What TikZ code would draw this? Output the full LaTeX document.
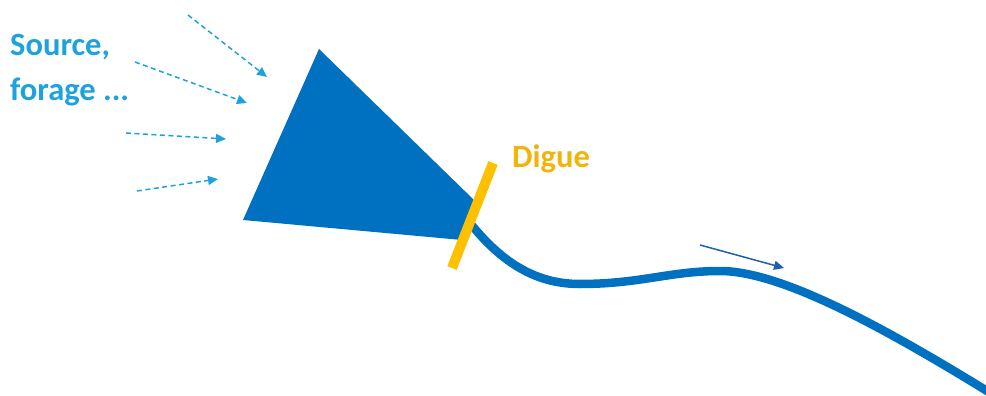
\documentclass[tikz,border=0pt]{standalone}
\usepackage{fontspec}
\setmainfont{Carlito}
\usetikzlibrary{arrows.meta}
\definecolor{riverblue}{RGB}{0,112,192}
\definecolor{srcblue}{RGB}{30,162,222}
\definecolor{damyellow}{RGB}{255,192,0}
\definecolor{damtext}{RGB}{240,180,10}
\definecolor{flowblue}{RGB}{30,95,170}
\tikzset{
  lbl/.style={anchor=base west, inner sep=0pt, font=\fontsize{32.5}{32.5}\selectfont\bfseries},
  inflow/.style={srcblue, line width=1.5pt, dash pattern=on 5pt off 3.5pt, -{Triangle[length=10pt,width=9pt]}},
  river/.style={riverblue, line width=8.5pt},
  dam/.style={damyellow, line width=10pt},
  flow/.style={flowblue, line width=1.5pt, -{Triangle[length=10pt,width=9pt]}}
}
\begin{document}
\begin{tikzpicture}[x=1pt,y=-1pt]
\useasboundingbox (0,0) rectangle (986,396);
% lake (truncated triangle)
\coordinate (apex) at (319,49);
\coordinate (bl) at (243,220);
\coordinate (tr) at (474,200);
\coordinate (br) at (462,240);
\fill[riverblue] (apex) -- (tr) -- (br) -- (bl) -- cycle;
% river
\coordinate (r0) at (466,218);
\coordinate (r1) at (580,284);
\coordinate (r2) at (720,271);
\coordinate (r3) at (992,394);
\draw[river] (r0) .. controls (500,262) and (535,284) .. (r1)
  .. controls (640,284) and (670,271) .. (r2)
  .. controls (780,271) and (880,325) .. (r3);
% dam
\coordinate (d1) at (493,163);
\coordinate (d2) at (452,268);
\draw[dam] (d1) -- (d2);
% labels
\node[lbl, text=srcblue] (src1) at (10,56) {Source,};
\node[lbl, text=srcblue] (src2) at (10,100) {forage ...};
\node[lbl, text=damtext] (digue) at (512,167) {Digue};
% inflow arrows
\coordinate (a1s) at (188,15);  \coordinate (a1e) at (267,77);
\coordinate (a2s) at (135,62);  \coordinate (a2e) at (247,103);
\coordinate (a3s) at (126,133); \coordinate (a3e) at (226,139);
\coordinate (a4s) at (137,191); \coordinate (a4e) at (218,179);
\draw[inflow] (a1s) -- (a1e);
\draw[inflow] (a2s) -- (a2e);
\draw[inflow] (a3s) -- (a3e);
\draw[inflow] (a4s) -- (a4e);
% flow direction
\coordinate (fs) at (700,245);
\coordinate (fe) at (784,268);
\draw[flow] (fs) -- (fe);
\end{tikzpicture}
\end{document}
